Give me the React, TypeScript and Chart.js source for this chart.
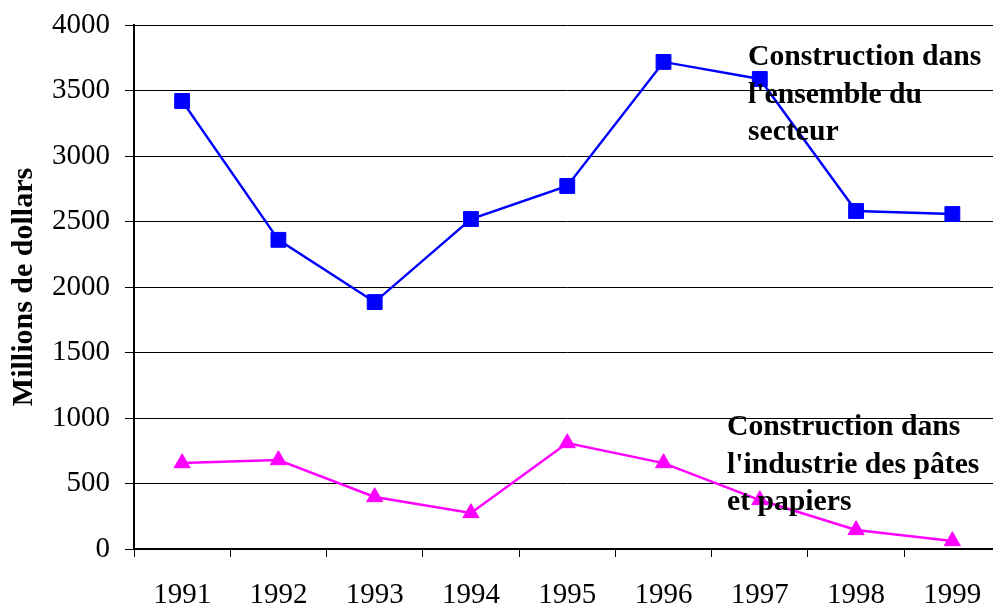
import React, { useEffect, useRef } from "react";
import { Chart, registerables } from "chart.js";

Chart.register(...registerables);

const years = ["1991", "1992", "1993", "1994", "1995", "1996", "1997", "1998", "1999"];
const secteurTotal = [3420, 2360, 1885, 2519, 2771, 3718, 3588, 2580, 2557];
const patesPapiers = [656, 679, 397, 275, 809, 656, 374, 145, 61];
const yTitle = "Millions de dollars";
const labelTotal = ["Construction dans", "l'ensemble du", "secteur"];
const labelPates = ["Construction dans", "l'industrie des pâtes", "et papiers"];

const SERIF = "'Liberation Serif', 'Times New Roman', serif";

const annotationPlugin = {
  id: "annotations",
  afterDatasetsDraw(chart: any) {
    const ctx = chart.ctx;
    ctx.save();
    ctx.fillStyle = "#000";
    ctx.font = `bold 29.7px ${SERIF}`;
    ctx.textAlign = "left";
    ctx.textBaseline = "alphabetic";
    const groups = [
      { lines: labelTotal, x: 748, y: 65 },
      { lines: labelPates, x: 727, y: 435 },
    ];
    groups.forEach((g) => {
      g.lines.forEach((t, i) => ctx.fillText(t, g.x, g.y + i * 37.5));
    });
    ctx.restore();
  },
};

export default function App() {
  const ref = useRef<HTMLCanvasElement | null>(null);
  useEffect(() => {
    if (!ref.current) return;
    const chart = new Chart(ref.current, {
      type: "line",
      data: {
        labels: years,
        datasets: [
          {
            data: secteurTotal,
            borderColor: "#0000FF",
            backgroundColor: "#0000FF",
            borderWidth: 2.4,
            pointStyle: "rect",
            pointRadius: 10.5,
            pointBorderWidth: 1,
            tension: 0,
          },
          {
            data: patesPapiers,
            borderColor: "#FF00FF",
            backgroundColor: "#FF00FF",
            borderWidth: 2.4,
            pointStyle: "triangle",
            pointRadius: 9.3,
            pointBorderWidth: 1,
            tension: 0,
          },
        ],
      },
      options: {
        responsive: false,
        animation: false,
        layout: { padding: { top: 25, left: 0, right: 0, bottom: 0 } },
        plugins: { legend: { display: false }, tooltip: { enabled: false } },
        scales: {
          x: {
            type: "category",
            offset: true,
            grid: {
              offset: true,
              drawOnChartArea: false,
              drawTicks: true,
              tickLength: 8,
              color: "#000",
              lineWidth: 1,
            },
            border: { display: true, color: "#000", width: 2 },
            ticks: {
              color: "#000",
              font: { family: SERIF, size: 29 },
              padding: 21,
              maxRotation: 0,
              autoSkip: false,
            },
            afterFit: (scale: any) => {
              scale.height = 57;
            },
          },
          y: {
            min: 0,
            max: 4000,
            ticks: {
              stepSize: 500,
              color: "#000",
              font: { family: SERIF, size: 29 },
              padding: 15,
              callback: (v: any) => String(v),
            },
            grid: { color: "#000", lineWidth: 1, tickLength: 9, drawTicks: true },
            border: { display: true, color: "#000", width: 2 },
            title: {
              display: true,
              text: yTitle,
              color: "#000",
              font: { family: SERIF, size: 30, weight: "bold" },
              padding: { top: 6, bottom: 0 },
            },
            afterFit: (scale: any) => {
              scale.width = 134;
              scale.paddingTop = 0;
              scale.paddingBottom = 0;
            },
          },
        },
      },
      plugins: [annotationPlugin],
    });
    return () => chart.destroy();
  }, []);
  return (
    <div
      style={{
        position: "fixed",
        left: 0,
        top: 0,
        width: 993,
        height: 606,
        overflow: "hidden",
        background: "#fff",
      }}
    >
      <canvas ref={ref} width={1012} height={606} style={{ display: "block" }} />
    </div>
  );
}
